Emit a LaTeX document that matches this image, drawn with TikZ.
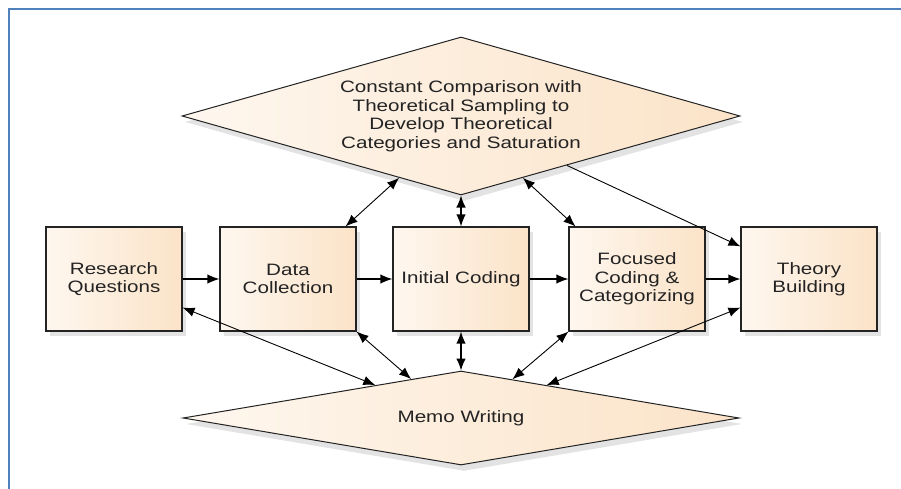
\documentclass[tikz,border=0pt]{standalone}
\usepackage{fontspec}
\setmainfont{Liberation Sans}[FakeStretch=1.25]
\usetikzlibrary{shapes.geometric,arrows.meta,shadows}
\definecolor{peachlight}{RGB}{254,247,239}
\definecolor{peachdark}{RGB}{251,227,200}
\definecolor{frameblue}{RGB}{79,129,189}
\definecolor{inkgray}{RGB}{35,35,35}

\begin{document}
\begin{tikzpicture}[x=1pt,y=-1pt,
    stage/.style={draw=inkgray, line width=1.1pt, left color=peachlight, right color=peachdark,
        minimum width=136, minimum height=104, inner sep=2pt, align=center, text=inkgray,
        font=\fontsize{16.5}{18.5}\selectfont,
        drop shadow={shadow xshift=4pt, shadow yshift=-5pt, opacity=.22}},
    hub/.style={diamond, draw=inkgray, line width=1pt, left color=peachlight, right color=peachdark,
        inner sep=0pt, align=center, text=inkgray, font=\fontsize{16.5}{18.5}\selectfont,
        drop shadow={shadow xshift=3pt, shadow yshift=-6pt, opacity=.22}},
    link/.style={line width=.9pt, >={Latex[length=12pt,width=9.5pt]}}]

    \useasboundingbox (0,0) rectangle (901,489);

    % Frame round the figure
    \draw[frameblue, line width=2pt] (9,489) -- (9,9) -- (901,9);

    % The five stages
    \foreach \name/\x/\lab in {
    rq/114/{Research\\Questions},
    dc/288/{Data\\Collection},
    ic/461/{Initial Coding},
    fc/637/{Focused\\Coding \&\\Categorizing},
    tb/809/{Theory\\Building}} {
    \node[stage] (\name) at (\x,279) {\lab};
    }

    % The two diamonds
    \node[hub, aspect=3.53, minimum width=558, minimum height=158] (compare) at (461,116)
        {Constant Comparison with\\Theoretical Sampling to\\Develop Theoretical\\Categories and Saturation};
    \node[hub, aspect=5.9, minimum width=556, minimum height=94] (memo) at (461,418) {Memo Writing};

    % Flow from stage to stage
    \foreach \a/\b in {rq/dc, dc/ic, ic/fc, fc/tb} {
    \draw[link, line width=1.3pt, ->] (\a.east) -- (\b.west);
    }

    % Links to the comparison diamond
    \draw[link, <->] (compare.225) -- ([xshift=-11pt]dc.north east);
    \draw[link, line width=1.3pt, <->] (compare.south) -- (ic.north);
    \draw[link, <->] (compare.315) -- ([xshift=7pt]fc.north west);
    \draw[link, ->] (compare.335) -- ([yshift=-20pt]tb.north west);

    % Links to memo writing
    \draw[link, <->] ([yshift=24pt]rq.south east) -- (memo.159);
    \draw[link, <->] (dc.south east) -- (memo.142);
    \draw[link, line width=1.3pt, <->] (ic.south) -- (memo.north);
    \draw[link, <->] (fc.south west) -- (memo.37);
    \draw[link, <->] ([yshift=24pt]tb.south west) -- (memo.21);

\end{tikzpicture}
\end{document}
